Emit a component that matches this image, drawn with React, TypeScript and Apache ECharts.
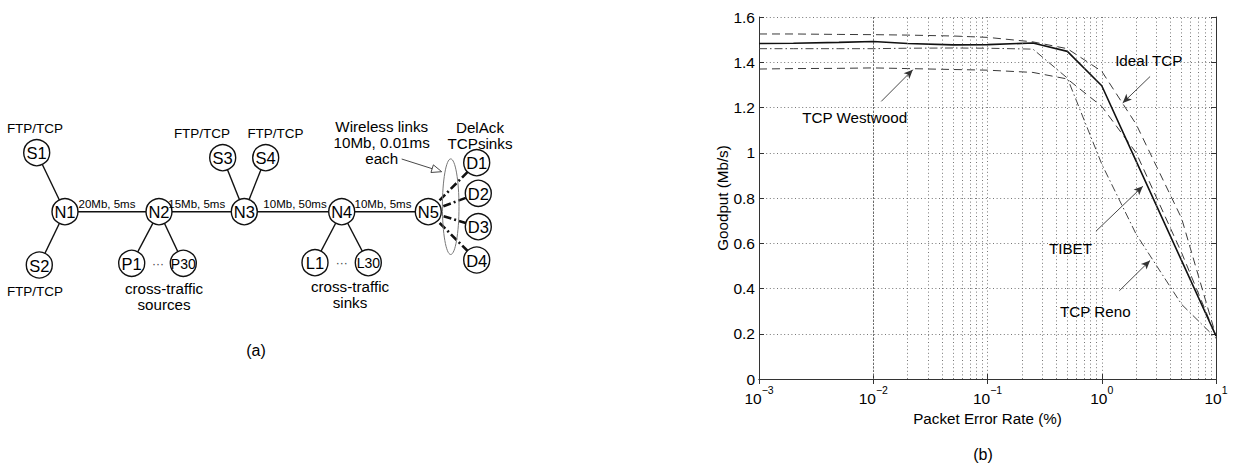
import React, { useEffect, useRef } from 'react';
import * as echarts from 'echarts';

// ---- Goodput vs. packet error rate ----
const errorRates = [0.001, 0.002, 0.005, 0.01, 0.02, 0.05, 0.1, 0.25, 0.5, 1, 2, 5, 10];
const idealTcp = [1.525, 1.525, 1.523, 1.522, 1.52, 1.516, 1.51, 1.49, 1.46, 1.36, 1.126, 0.71, 0.19];
const tibet = [1.483, 1.484, 1.488, 1.492, 1.483, 1.477, 1.478, 1.485, 1.448, 1.296, 0.963, 0.523, 0.19];
const westwood = [1.37, 1.372, 1.373, 1.375, 1.372, 1.368, 1.365, 1.355, 1.326, 1.205, 1.0, 0.558, 0.19];
const reno = [1.46, 1.46, 1.46, 1.46, 1.462, 1.463, 1.462, 1.458, 1.33, 0.95, 0.64, 0.33, 0.18];

const decades = [0.001, 0.01, 0.1, 1];
const minorMultipliers = [2, 3, 4, 5, 6, 7, 8, 9];

const annotations = [
  { text: 'Ideal TCP', at: [2.58, 1.407], from: [2.65, 1.337], to: [1.525, 1.22] },
  { text: 'TCP Westwood', at: [0.00687, 1.154], from: [0.01175, 1.227], to: [0.0222, 1.367] },
  { text: 'TIBET', at: [0.532, 0.575], from: [0.889, 0.653], to: [2.29, 0.852] },
  { text: 'TCP Reno', at: [0.879, 0.299], from: [1.426, 0.39], to: [2.65, 0.524] },
];

// ---- Simulated network topology ----
const nodeNames = ['S1', 'S2', 'N1', 'N2', 'N3', 'S3', 'S4', 'N4', 'N5', 'P1', 'P30', 'L1', 'L30', 'D1', 'D2', 'D3', 'D4'];
const wiredLinks = [
  ['S1', 'N1'], ['S2', 'N1'], ['N1', 'N2'], ['N2', 'N3'], ['N3', 'N4'], ['N4', 'N5'],
  ['N2', 'P1'], ['N2', 'P30'], ['S3', 'N3'], ['S4', 'N3'], ['N4', 'L1'], ['N4', 'L30'],
];
const wirelessLinks = [['N5', 'D1'], ['N5', 'D2'], ['N5', 'D3'], ['N5', 'D4']];
const backboneLabels = ['20Mb, 5ms', '15Mb, 5ms', '10Mb, 50ms', '10Mb, 5ms'];
const diagramNotes = [
  'FTP/TCP', 'FTP/TCP', 'FTP/TCP', 'FTP/TCP',
  'cross-traffic\nsources', 'cross-traffic\nsinks',
  'Wireless links\n10Mb, 0.01ms\neach', 'DelAck\nTCPsinks',
];

// layout of the diagram (pixel positions)
const nodeLayout: Record<string, [number, number]> = {
  S1: [36.7, 152.7], S2: [39.3, 265], N1: [65, 211.7], N2: [159, 211.7],
  P1: [131.7, 263.3], P30: [183.3, 263.3], N3: [244.3, 211.7], S3: [222.7, 157.7],
  S4: [265.7, 157.7], N4: [341.7, 211.7], N5: [428.3, 211.7], L1: [315, 262.7],
  L30: [368.3, 262.7], D1: [476.7, 162.7], D2: [478.3, 193.3], D3: [478.3, 226.7],
  D4: [476.7, 260],
};
const backboneLabelPos: [number, number][] = [[107, 204], [196.7, 204], [295, 204], [383, 204]];
const notePos: [number, number, number][] = [
  [35, 128, 0], [35, 291, 0], [202, 133.5, 0], [275.5, 133.5, 0],
  [164, 296.2, 15.6], [350, 294.5, 15.6], [381.7, 142.3, 16.2], [480, 135.5, 15.6],
];

const FONT = '"Liberation Sans", Arial, Helvetica, sans-serif';

function arrowHead(from: number[], to: number[], len: number, half: number) {
  const dx = to[0] - from[0];
  const dy = to[1] - from[1];
  const d = Math.hypot(dx, dy);
  const ux = dx / d;
  const uy = dy / d;
  const bx = to[0] - ux * len;
  const by = to[1] - uy * len;
  return [
    [to[0], to[1]],
    [bx - uy * half, by + ux * half],
    [bx + uy * half, by - ux * half],
  ];
}

function buildDiagram() {
  const els: any[] = [];
  const stroke = '#111';
  wiredLinks.forEach(([a, b]) => {
    const [x1, y1] = nodeLayout[a];
    const [x2, y2] = nodeLayout[b];
    els.push({ type: 'line', silent: true, z: 1, shape: { x1, y1, x2, y2 }, style: { stroke, lineWidth: 1.4 } });
  });
  wirelessLinks.forEach(([a, b]) => {
    const [x1, y1] = nodeLayout[a];
    const [x2, y2] = nodeLayout[b];
    els.push({
      type: 'line', silent: true, z: 1, shape: { x1, y1, x2, y2 },
      style: { stroke, lineWidth: 2.6, lineDash: [8, 3, 2, 3] },
    });
  });
  nodeNames.forEach((n) => {
    const [cx, cy] = nodeLayout[n];
    els.push({ type: 'circle', silent: true, z: 3, shape: { cx, cy, r: 13 }, style: { fill: '#fff', stroke, lineWidth: 1.4 } });
    const fs = n.length > 2 ? 14 : 16.5;
    els.push({
      type: 'text', silent: true, z: 4, x: cx, y: cy + 0.5,
      style: {
        text: n, fontFamily: FONT, fontSize: fs, fill: '#000',
        align: 'center', verticalAlign: 'middle', textAlign: 'center', textVerticalAlign: 'middle',
      },
    });
  });
  // dots between the numbered cross-traffic hosts
  [[158, 263.5], [341.7, 262.5]].forEach(([x, y]) => {
    els.push({
      type: 'text', silent: true, z: 4, x, y,
      style: { text: '···', fontFamily: FONT, fontSize: 12, fill: '#444', align: 'center', verticalAlign: 'middle', textAlign: 'center', textVerticalAlign: 'middle' },
    });
  });
  backboneLabels.forEach((t, i) => {
    const [x, y] = backboneLabelPos[i];
    els.push({
      type: 'text', silent: true, z: 4, x, y,
      style: { text: t, fontFamily: FONT, fontSize: 11.5, fill: '#000', align: 'center', verticalAlign: 'middle', textAlign: 'center', textVerticalAlign: 'middle' },
    });
  });
  diagramNotes.forEach((t, i) => {
    const [x, y, lh] = notePos[i];
    const fs = t.startsWith('FTP') ? 13.5 : 15.2;
    els.push({
      type: 'text', silent: true, z: 4, x, y,
      style: {
        text: t, fontFamily: FONT, fontSize: fs, lineHeight: lh || fs * 1.1, fill: '#000',
        align: 'center', verticalAlign: 'middle', textAlign: 'center', textVerticalAlign: 'middle',
      },
    });
  });
  // ellipse grouping the wireless links
  els.push({ type: 'ellipse', silent: true, z: 5, shape: { cx: 450.7, cy: 206.7, rx: 8.3, ry: 47.8 }, style: { fill: 'none', stroke: '#777', lineWidth: 1 } });
  // pointer from the note to the ellipse
  const from = [401.7, 159];
  const to = [441.7, 171.7];
  const head = arrowHead(from, to, 10, 4);
  els.push({ type: 'line', silent: true, z: 5, shape: { x1: from[0], y1: from[1], x2: (head[1][0] + head[2][0]) / 2, y2: (head[1][1] + head[2][1]) / 2 }, style: { stroke: '#333', lineWidth: 0.9 } });
  els.push({ type: 'polygon', silent: true, z: 5, shape: { points: head }, style: { fill: '#fff', stroke: '#333', lineWidth: 0.9 } });
  // panel captions
  els.push({ type: 'text', silent: true, z: 4, x: 256, y: 350, style: { text: '(a)', fontFamily: FONT, fontSize: 16, fill: '#000', align: 'center', verticalAlign: 'middle', textAlign: 'center', textVerticalAlign: 'middle' } });
  els.push({ type: 'text', silent: true, z: 4, x: 983, y: 454, style: { text: '(b)', fontFamily: FONT, fontSize: 16, fill: '#000', align: 'center', verticalAlign: 'middle', textAlign: 'center', textVerticalAlign: 'middle' } });
  return els;
}

function pairs(ys: number[]) {
  return errorRates.map((x, i) => [x, ys[i]]);
}

function buildOption() {
  const minorRates = decades.flatMap((d) => minorMultipliers.map((m) => +(m * d).toPrecision(3)));
  const gridDots = { color: '#666', width: 0.9, type: [1, 2.6] as any };
  const axisColor = '#333';
  const xTickLabel = (v: number) => {
    const e = Math.round(Math.log10(v));
    return `{b|10}{e|${e < 0 ? '\u2212' + -e : e}}`;
  };

  return {
    animation: false,
    backgroundColor: '#fff',
    textStyle: { fontFamily: FONT },
    graphic: buildDiagram(),
    grid: { left: 759, top: 17, width: 457, height: 362, containLabel: false },
    xAxis: [
      {
        type: 'log', logBase: 10, min: 0.001, max: 10,
        name: 'Packet Error Rate (%)', nameLocation: 'middle', nameGap: 22,
        nameTextStyle: { fontSize: 15.2, color: '#000', fontFamily: FONT },
        axisLine: { show: true, lineStyle: { color: axisColor, width: 1 } },
        axisTick: { show: true, inside: true, length: 5, lineStyle: { color: axisColor } },
        axisLabel: {
          margin: 5, formatter: xTickLabel,
          rich: {
            b: { fontSize: 15.5, color: '#000', fontFamily: FONT, verticalAlign: 'bottom', lineHeight: 22 },
            e: { fontSize: 10.5, color: '#000', fontFamily: FONT, verticalAlign: 'top', lineHeight: 12 },
          },
        },
        splitLine: { show: true, lineStyle: gridDots },
      },
      {
        type: 'log', logBase: 10, min: 0.001, max: 10, position: 'top',
        axisLine: { show: true, lineStyle: { color: axisColor, width: 1 } },
        axisTick: { show: true, inside: true, length: 5, lineStyle: { color: axisColor } },
        axisLabel: { show: false },
        splitLine: { show: false },
      },
    ],
    yAxis: [
      {
        type: 'value', min: 0, max: 1.6, interval: 0.2,
        name: 'Goodput (Mb/s)', nameLocation: 'middle', nameGap: 28,
        nameTextStyle: { fontSize: 15.2, color: '#000', fontFamily: FONT },
        axisLine: { show: true, lineStyle: { color: axisColor, width: 1 } },
        axisTick: { show: true, inside: true, length: 5, lineStyle: { color: axisColor } },
        axisLabel: { margin: 4, fontSize: 15.5, color: '#000', fontFamily: FONT },
        splitLine: { show: true, lineStyle: gridDots },
      },
      {
        type: 'value', min: 0, max: 1.6, interval: 0.2, position: 'right',
        axisLine: { show: true, lineStyle: { color: axisColor, width: 1 } },
        axisTick: { show: true, inside: true, length: 5, lineStyle: { color: axisColor } },
        axisLabel: { show: false },
        splitLine: { show: false },
      },
    ],
    series: [
      {
        name: 'minor grid', type: 'line', data: [], z: 1, silent: true,
        markLine: {
          silent: true, symbol: 'none', label: { show: false }, animation: false,
          lineStyle: gridDots,
          data: minorRates.map((v) => ({ xAxis: v })),
        },
      },
      {
        name: 'Ideal TCP', type: 'line', data: pairs(idealTcp), showSymbol: false, symbol: 'none', z: 3,
        lineStyle: { color: '#3a3a3a', width: 1, type: [8, 5] },
      },
      {
        name: 'TCP Westwood', type: 'line', data: pairs(westwood), showSymbol: false, symbol: 'none', z: 3,
        lineStyle: { color: '#3a3a3a', width: 1, type: [8, 5] },
      },
      {
        name: 'TCP Reno', type: 'line', data: pairs(reno), showSymbol: false, symbol: 'none', z: 3,
        lineStyle: { color: '#444', width: 1, type: [8, 3, 1.5, 3] },
      },
      {
        name: 'TIBET', type: 'line', data: pairs(tibet), showSymbol: false, symbol: 'none', z: 4,
        lineStyle: { color: '#111', width: 1.6 },
      },
      {
        name: 'notes', type: 'line', data: [], z: 5, silent: true,
        markLine: {
          silent: true, symbol: ['none', 'arrow'], symbolSize: [6, 9], label: { show: false }, animation: false,
          lineStyle: { color: '#333', width: 0.9, type: 'solid' },
          itemStyle: { color: '#222' },
          data: annotations.map((a) => [{ coord: a.from }, { coord: a.to }]),
        },
        markPoint: {
          silent: true, animation: false, symbol: 'circle', symbolSize: 0,
          label: { show: true, position: 'inside', fontSize: 15.2, color: '#000', fontFamily: FONT },
          data: annotations.map((a) => ({ coord: a.at, value: a.text, label: { formatter: a.text } })),
        },
      },
    ],
  };
}

export default function App() {
  const ref = useRef<HTMLDivElement>(null);
  useEffect(() => {
    if (!ref.current) return;
    const chart = echarts.init(ref.current, null, { renderer: 'svg' });
    chart.setOption(buildOption() as any);
    return () => chart.dispose();
  }, []);
  return (
    <div
      ref={ref}
      style={{ position: 'absolute', left: 0, top: 0, width: 1234, height: 472, background: '#fff' }}
    />
  );
}
